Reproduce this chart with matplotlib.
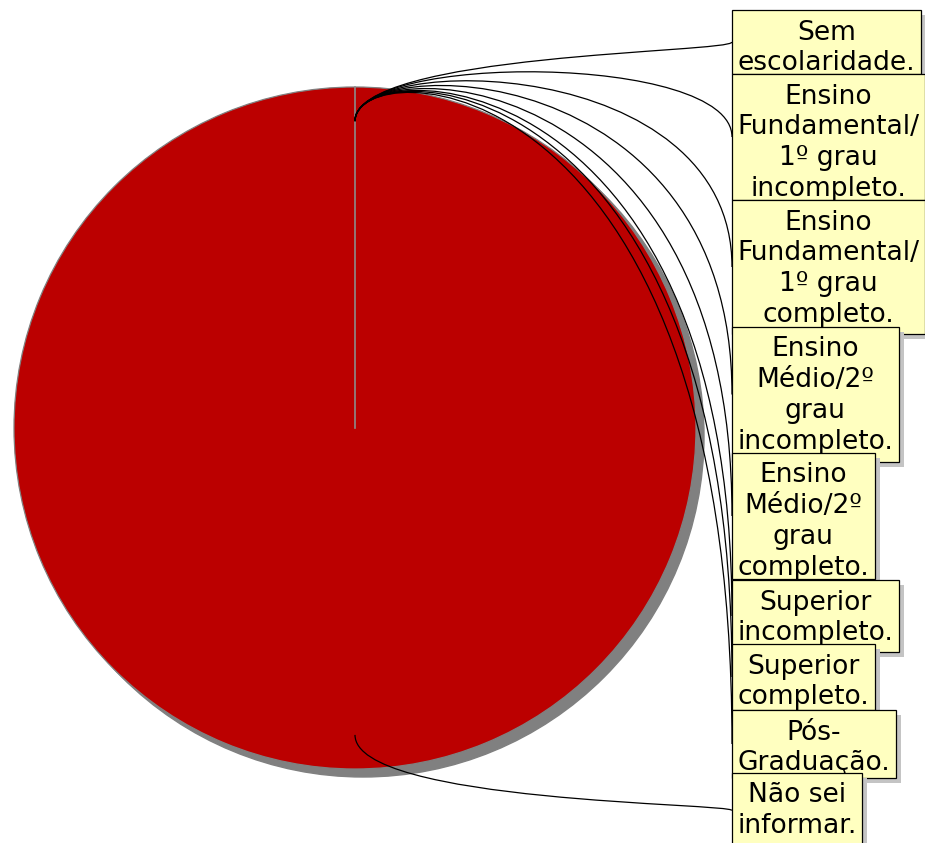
import numpy as np
import matplotlib
matplotlib.use("Agg")
import matplotlib.pyplot as plt
from matplotlib.patches import Circle, PathPatch, Rectangle
from matplotlib.path import Path

# categories (line breaks as wrapped in the chart) and values
labels = [
    "Sem\nescolaridade.",
    "Ensino\nFundamental/\n1º grau\nincompleto.",
    "Ensino\nFundamental/\n1º grau\ncompleto.",
    "Ensino\nMédio/2º\ngrau\nincompleto.",
    "Ensino\nMédio/2º\ngrau\ncompleto.",
    "Superior\nincompleto.",
    "Superior\ncompleto.",
    "Pós-\nGraduação.",
    "Não sei\ninformar.",
]
values = [0, 0, 0, 0, 0, 0, 0, 0, 1]

# layout (pixels)
W, H = 925, 843
CX, CY, R = 355, 428, 341
BOX_X = 732
box_tops = [10, 74, 200, 327, 453, 580, 644, 710, 773]
box_bottoms = [74, 200, 334, 462, 579, 652, 710, 778, 848]
FS = 19.1
PAD = 5.5

def px(x, y):
    return (x - CX) / R, (CY - y) / R

fig = plt.figure(figsize=(W / 100, H / 100), dpi=100)
ax = fig.add_axes([0, 0, 1, 1])

# pie shadow
off = 8 / R
ax.add_patch(Circle((off, -off), 1.0, color="#808080", zorder=0))

wedges, _ = ax.pie(values, startangle=90, counterclock=False, radius=1.0,
                   colors=["#BB0000"] * len(values),
                   wedgeprops=dict(edgecolor="#808080", linewidth=0.9))
for w in wedges:
    w.set_zorder(1)
# wedge boundary at the start angle
ax.plot([0, 0], [0, 1], color="#8c8c8c", lw=1.2, zorder=2)

ax.set_xlim(px(0, 0)[0], px(W, 0)[0])
ax.set_ylim(px(0, H)[1], px(0, 0)[1])
ax.set_aspect("auto")
ax.axis("off")

# label texts
texts = []
for i, (lab, top) in enumerate(zip(labels, box_tops)):
    t = ax.text(0, 0, lab, ha="center", va="top", multialignment="center",
                fontsize=FS, color="black", linespacing=1.24, zorder=10 + 2 * i + 1)
    texts.append(t)

fig.canvas.draw()
renderer = fig.canvas.get_renderer()

box_mid = []
for i, (t, top, bot) in enumerate(zip(texts, box_tops, box_bottoms)):
    tw = t.get_window_extent(renderer).width
    bw = tw + 2 * PAD
    x0, y0 = px(BOX_X, bot)
    x1, y1 = px(BOX_X + bw, top)
    s = 5 / R
    ax.add_patch(Rectangle((x0 + s, y0 - s), x1 - x0, y1 - y0, fc="#c4c4c4", ec="none",
                           zorder=10 + 2 * i))
    ax.add_patch(Rectangle((x0, y0), x1 - x0, y1 - y0, fc="#FFFFC0", ec="black", lw=0.9,
                           zorder=10 + 2 * i))
    t.set_position(px(BOX_X + bw / 2, top + 9.5))
    box_mid.append(px(BOX_X, (top + bot) / 2))

# connector curves from the wedge middles to the boxes
total = sum(values)
cum = np.cumsum([0] + values[:-1])
for v, c, (ex, ey) in zip(values, cum, box_mid):
    mid = 90 - 360 * (c + v / 2) / total
    a = np.deg2rad(mid)
    p0 = (0.9 * np.cos(a), 0.9 * np.sin(a))
    p1 = (1.1 * np.cos(a), 1.1 * np.sin(a))
    p2 = (ex, p1[1])
    path = Path([p0, p1, p2, (ex, ey)],
                [Path.MOVETO, Path.CURVE4, Path.CURVE4, Path.CURVE4])
    ax.add_patch(PathPatch(path, fill=False, ec="black", lw=0.9, zorder=5))

fig.savefig("out.png", dpi=100)
